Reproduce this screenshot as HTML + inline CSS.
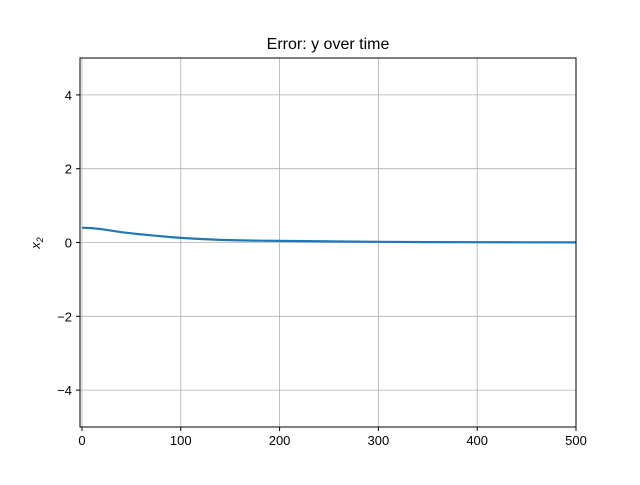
<!DOCTYPE html>
<html><head><meta charset="utf-8"><style>
body{margin:0;background:#fff;font-family:"Liberation Sans","DejaVu Sans",sans-serif}
</style></head><body>
<svg id="chart" width="640" height="480" xmlns="http://www.w3.org/2000/svg">
<rect width="640" height="480" fill="#fff"/>
<text x="328" y="49" font-size="16" text-anchor="middle" fill="#000">Error: y over time</text>
<text x="0" y="0" font-size="13" font-style="italic" text-anchor="middle" transform="translate(40,243) rotate(-90)">x<tspan font-size="9" dy="3">2</tspan></text>
<g id="grid"></g>
<g id="ticks"></g>
<g id="series"></g>
<rect x="80" y="58" width="496" height="369" fill="none" stroke="#000" stroke-width="1"/>
</svg>
<script>
const xTicks=[0,100,200,300,400,500];
const yTicks=[-4,-2,0,2,4];
const times=[0,10,20,30,40,50,60,70,80,90,100,120,140,160,180,200,250,300,350,400,450,500];
const values=[0.4,0.39,0.36,0.32,0.28,0.25,0.22,0.195,0.17,0.145,0.125,0.095,0.07,0.058,0.05,0.043,0.03,0.018,0.012,0.008,0.005,0.003];
const X0=80,X1=576,Y0=58,Y1=427;
const xmin=-2,xmax=500,ymin=-5,ymax=5;
function sx(v){return X0+(v-xmin)/(xmax-xmin)*(X1-X0);}
function sy(v){return Y1-(v-ymin)/(ymax-ymin)*(Y1-Y0);}
const NS="http://www.w3.org/2000/svg";
function mk(t,a,p){const e=document.createElementNS(NS,t);for(const k in a)e.setAttribute(k,a[k]);document.getElementById(p).appendChild(e);return e;}
xTicks.forEach(v=>{
  const g=mk('line',{x1:sx(v),x2:sx(v),y1:Y0,y2:Y1,stroke:'#b0b0b0','stroke-width':0.8},'grid');
  
  
  const t=mk('line',{x1:sx(v),x2:sx(v),y1:Y1,y2:Y1+4,stroke:'#000'},'ticks');
  
  
  const l=mk('text',{x:sx(v),y:Y1+18,'font-size':13,'text-anchor':'middle'},'ticks');
  l.textContent=v;
  
  
});
yTicks.forEach(v=>{
  const g=mk('line',{x1:X0,x2:X1,y1:sy(v),y2:sy(v),stroke:'#b0b0b0','stroke-width':0.8},'grid');
  
  
  const t=mk('line',{x1:X0-4,x2:X0,y1:sy(v),y2:sy(v),stroke:'#000'},'ticks');
  
  
  const l=mk('text',{x:X0-8,y:sy(v)+5,'font-size':13,'text-anchor':'end'},'ticks');
  l.textContent=(v<0?'\u2212'+(-v):v);
  
  
});
const d=times.map((t,i)=>(i?'L':'M')+sx(t).toFixed(1)+','+sy(values[i]).toFixed(1)).join(' ');
const p=mk('path',{d:d,fill:'none',stroke:'#1f77b4','stroke-width':2.2},'series');


</script>
</body></html>
